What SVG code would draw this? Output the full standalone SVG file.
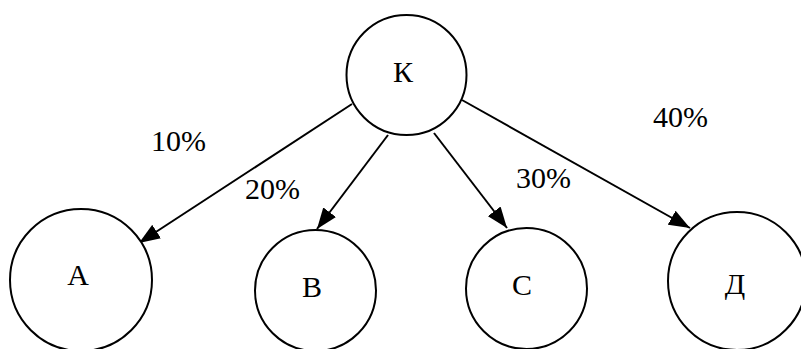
<svg xmlns="http://www.w3.org/2000/svg" width="801" height="349" viewBox="0 0 801 349">
  <style>
    .node circle { fill: #ffffff; stroke: #000000; stroke-width: 2; }
    .node text, .label { font-family: "Liberation Serif", "Times New Roman", serif; font-size: 30px; fill: #000000; }
    .node text { text-anchor: middle; }
    .edge { stroke: #000000; stroke-width: 2; fill: none; marker-end: url(#arrow); }
  </style>
  <defs>
    <marker id="arrow" markerUnits="userSpaceOnUse" markerWidth="22" markerHeight="16" refX="21" refY="8" orient="auto">
      <path d="M0,0 L21,8 L0,16 Z" fill="#000000"/>
    </marker>
  </defs>
  <rect width="801" height="349" fill="#ffffff"/>

  <g id="connectors">
    <line class="edge" x1="352" y1="104" x2="139" y2="243"/>
    <line class="edge" x1="388" y1="135" x2="317" y2="229"/>
    <line class="edge" x1="434" y1="133" x2="507" y2="228"/>
    <line class="edge" x1="462" y1="100" x2="690" y2="228"/>
    <text class="label" x="151" y="151">10%</text>
    <text class="label" x="245" y="199">20%</text>
    <text class="label" x="516" y="188">30%</text>
    <text class="label" x="653" y="127">40%</text>
  </g>

  <g id="node-K" class="node">
    <circle cx="406.5" cy="75" r="60"/>
    <text x="403" y="82">К</text>
  </g>
  <g id="node-A" class="node">
    <circle cx="81" cy="280" r="71"/>
    <text x="78" y="285">А</text>
  </g>
  <g id="node-B" class="node">
    <circle cx="315.5" cy="290.5" r="60.5"/>
    <text x="312" y="297">В</text>
  </g>
  <g id="node-C" class="node">
    <circle cx="526.5" cy="288.5" r="60.5"/>
    <text x="522" y="295">С</text>
  </g>
  <g id="node-D" class="node">
    <circle cx="737" cy="281" r="69"/>
    <text x="735" y="294">Д</text>
  </g>
</svg>
